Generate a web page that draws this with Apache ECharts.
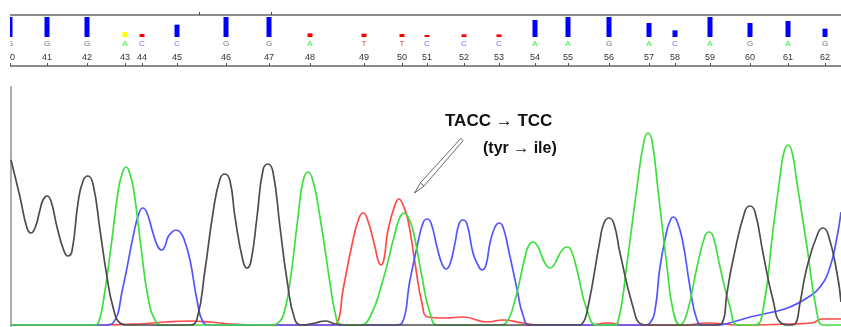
<!DOCTYPE html>
<html><head><meta charset="utf-8">
<script src="https://cdn.jsdelivr.net/npm/echarts@6/dist/echarts.min.js"></script>
<style>html,body{margin:0;padding:0;background:#fff}#c{width:841px;height:327px}</style>
</head><body><div id="c"></div>
<script>
// Base calls (scan position of each call, number, base, quality)
const basePos  = [10,47,87,125,142,177,226,269,310,364,402,427,464,499,535,568,609,649,675,710,750,788,825];
const baseNum  = [40,41,42,43,44,45,46,47,48,49,50,51,52,53,54,55,56,57,58,59,60,61,62];
const baseCall = ['G','G','G','A','C','C','G','G','A','T','T','C','C','C','A','A','G','A','C','A','G','A','G'];
const quality  = [60,60,60,15,9,37,60,60,11,10,9,6,8,8,51,60,60,42,20,60,42,48,25];
const scaleMarks = [199,271];

// Trace intensities [scan, intensity]
const traceG = [[11,167],[20,130],[27,99],[31,94],[35,99],[40,117],[43,127],[47,131],[51,126],[57,100],[64,76],[68,71],[72,76],[78,124],[83,146],[88,151],[93,143],[100,97],[107,50],[113,20],[120,4],[128,2],[190,2],[197,8],[205,57],[213,114],[220,148],[225,153],[230,146],[235,110],[243,66],[247,59],[251,66],[257,110],[263,157],[268,163],[273,155],[280,100],[287,47],[295,7],[302,2],[315,4],[325,6],[335,3],[345,2],[578,2],[582,3],[588,20],[600,87],[604,104],[609,109],[614,103],[620,74],[633,20],[641,3],[648,2],[715,2],[722,4],[727,34],[733,67],[745,116],[750,121],[755,115],[763,74],[773,27],[781,4],[790,2],[795,3],[800,24],[807,60],[818,94],[823,99],[828,93],[837,54],[841,25]];
const traceA = [[11,2],[95,2],[99,6],[104,30],[111,80],[118,135],[122,153],[126,160],[130,153],[134,135],[141,80],[148,30],[155,7],[162,2],[272,2],[278,4],[284,14],[290,45],[298,110],[303,146],[308,155],[313,146],[320,110],[330,44],[335,15],[340,3],[350,2],[360,2],[370,10],[383,47],[395,94],[400,110],[404,114],[408,110],[413,97],[422,50],[430,14],[438,2],[500,2],[506,4],[515,27],[525,70],[529,82],[533,85],[537,82],[541,73],[546,62],[550,59],[554,62],[558,70],[563,78],[567,80],[571,77],[577,57],[587,17],[597,2],[612,2],[618,5],[627,64],[637,140],[644,186],[648,194],[652,186],[658,137],[667,60],[673,17],[680,2],[687,14],[697,60],[705,91],[709,95],[713,91],[720,60],[730,20],[738,2],[755,2],[763,17],[773,97],[780,150],[784,175],[788,182],[792,175],[797,144],[807,80],[817,14],[823,2],[841,2]];
const traceC = [[11,2],[105,2],[113,4],[123,40],[133,90],[139,114],[143,119],[147,114],[153,94],[158,80],[162,77],[165,81],[168,90],[172,95],[176,97],[180,95],[184,88],[190,67],[197,27],[203,5],[210,2],[395,2],[402,4],[410,47],[417,80],[423,104],[427,108],[431,104],[437,80],[442,63],[446,58],[450,63],[455,84],[459,103],[463,107],[467,103],[473,74],[478,62],[482,57],[486,62],[490,84],[495,100],[499,104],[503,100],[509,75],[517,38],[523,12],[530,2],[645,2],[650,4],[655,17],[660,60],[667,97],[670,106],[673,110],[677,106],[683,84],[690,40],[697,7],[703,2],[717,2],[733,5],[750,10],[773,15],[790,20],[807,29],[820,40],[830,60],[837,90],[841,115]];
const traceT = [[11,2],[60,2],[100,2],[140,3],[165,5],[190,6],[210,5],[230,3],[260,2],[330,2],[337,4],[343,37],[353,87],[359,109],[363,114],[367,109],[375,80],[378,67],[381,62],[384,68],[388,97],[395,122],[399,128],[403,122],[408,107],[415,64],[422,24],[428,10],[445,9],[463,10],[487,5],[503,7],[523,4],[540,2],[590,2],[607,4],[625,2],[685,2],[707,4],[740,2],[790,3],[812,4],[822,8],[841,8]];

const callColor = {G:'#707070', A:'#33ee33', C:'#6f6fff', T:'#ff3030'};
function qColor(q){ return q >= 20 ? '#0000ff' : (q >= 15 ? '#ffff00' : '#ff0000'); }

const chart = echarts.init(document.getElementById('c'), null, {renderer:'canvas'});
const font = '"Liberation Sans", Arial, sans-serif';

function trace(data, color){
  return {type:'line', xAxisIndex:3, yAxisIndex:2, data, showSymbol:false, smooth:0.5,
          lineStyle:{color, width:1.7}, itemStyle:{color}, silent:true};
}

chart.setOption({
  animation:false,
  backgroundColor:'#fff',
  grid:[
    {left:0, right:0, top:15, height:51},
    {left:0, right:0, top:17, height:20},
    {left:11, right:0, top:87, bottom:0}
  ],
  xAxis:[
    {gridIndex:0, type:'value', min:0, max:841, position:'bottom',
     axisLine:{show:true, lineStyle:{color:'#8c8c8c', width:2}},
     axisTick:{show:true, inside:true, length:3, customValues:basePos, lineStyle:{color:'#555'}},
     axisLabel:{show:true, inside:true, margin:4, customValues:basePos, fontSize:9, color:'#333', fontFamily:font,
       formatter:v=>{const i=basePos.indexOf(v); return i<0?'':String(baseNum[i]);}},
     splitLine:{show:false}},
    {gridIndex:0, type:'value', min:0, max:841, position:'top',
     axisLine:{show:true, lineStyle:{color:'#8c8c8c', width:2}},
     axisTick:{show:true, length:3, customValues:scaleMarks, lineStyle:{color:'#444'}},
     axisLabel:{show:false}, splitLine:{show:false}},
    {gridIndex:1, type:'value', min:0, max:841, position:'bottom',
     axisLine:{show:false}, axisTick:{show:false}, splitLine:{show:false},
     axisLabel:{show:true, margin:3, customValues:basePos, fontSize:8, fontFamily:font,
       formatter:v=>{const i=basePos.indexOf(v); if(i<0) return ''; const b=baseCall[i]; return '{'+b+'|'+b+'}';},
       rich:{G:{color:callColor.G,fontSize:8}, A:{color:callColor.A,fontSize:8}, C:{color:callColor.C,fontSize:8}, T:{color:callColor.T,fontSize:8}}}},
    {gridIndex:2, type:'value', min:11, max:841, show:false}
  ],
  yAxis:[
    {gridIndex:0, type:'value', show:false, min:0, max:1},
    {gridIndex:1, type:'value', show:false, min:0, max:60},
    {gridIndex:2, type:'value', min:0, max:240,
     axisLine:{show:true, onZero:false, lineStyle:{color:'#ababab', width:2}},
     axisTick:{show:false}, axisLabel:{show:false}, splitLine:{show:false}}
  ],
  series:[
    {type:'bar', xAxisIndex:2, yAxisIndex:1, barWidth:5, silent:true,
     data: basePos.map((x,i)=>({value:[x, quality[i]], itemStyle:{color:qColor(quality[i])}}))},
    trace(traceT, '#ff4a4a'),
    trace(traceC, '#5555ff'),
    trace(traceA, '#3ee03e'),
    trace(traceG, '#4d4d4d')
  ],
  graphic:[
    {type:'rect', shape:{x:0, y:0, width:10, height:72}, style:{fill:'#fff'}, z:100},
    {type:'polygon', shape:{points:[[463.2,140.6],[424.0,186.0],[414.5,193],[420.4,182.8],[460.8,138.4]]},
     style:{fill:'#fff', stroke:'#6a6a6a', lineWidth:1}, z:50},
    {type:'line', shape:{x1:424.0, y1:186.0, x2:420.4, y2:182.8}, style:{stroke:'#6a6a6a', lineWidth:1}, z:51},
    {type:'text', x:445, y:121, z:60,
     style:{text:'TACC → TCC', font:'bold 17px "Liberation Sans", Arial, sans-serif', fill:'#111', verticalAlign:'middle'}},
    {type:'text', x:483, y:149, z:60,
     style:{text:'(tyr → ile)', font:'bold 16px "Liberation Sans", Arial, sans-serif', fill:'#111', verticalAlign:'middle'}}
  ]
});
</script>
</body></html>
